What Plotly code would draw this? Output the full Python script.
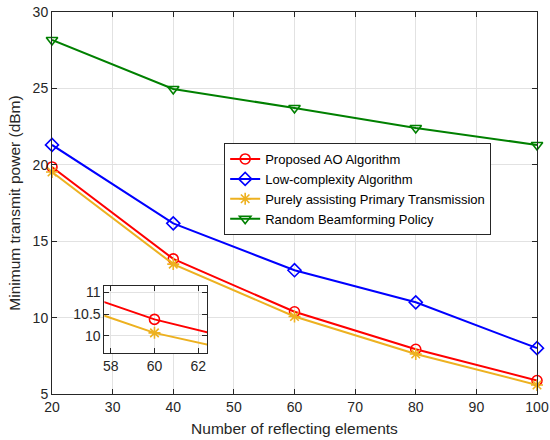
import plotly.graph_objects as go

# ---- data ----
elements = [20, 40, 60, 80, 100]
proposed_ao = [19.86, 13.84, 10.38, 7.93, 5.88]
low_complexity = [21.3, 16.17, 13.1, 11.0, 8.0]
purely_primary = [19.53, 13.5, 10.07, 7.62, 5.59]
random_bf = [28.17, 24.96, 23.72, 22.41, 21.3]

names = ["Proposed AO Algorithm", "Low-complexity Algorithm",
         "Purely assisting Primary Transmission", "Random Beamforming Policy"]

x_ticks = [20, 30, 40, 50, 60, 70, 80, 90, 100]
y_ticks = [5, 10, 15, 20, 25, 30]
inset_x_ticks = [58, 60, 62]
inset_y_ticks = [10, 10.5, 11]
inset_y_ticklabels = ["10", "10.5", "11"]

RED = "#FF0000"
BLUE = "#0000FF"
YEL = "#EDB120"
GRN = "#008000"
AX = "#262626"
GRID = "#e2e2e2"
FONT = "Liberation Sans"

fig = go.Figure()

series = [
    (proposed_ao, RED, "circle-open"),
    (low_complexity, BLUE, "diamond-open"),
    (purely_primary, YEL, "asterisk-open"),
    (random_bf, GRN, "triangle-down-open"),
]
for (vals, col, sym), nm in zip(series, names):
    fig.add_trace(go.Scatter(
        x=elements, y=vals, name=nm, mode="lines+markers",
        line=dict(color=col, width=2),
        marker=dict(symbol=sym, size=10, color=col, line=dict(color=col, width=1.6)),
        cliponaxis=False,
    ))

# inset traces
for (vals, col, sym) in [series[0], series[2]]:
    fig.add_trace(go.Scatter(
        x=elements, y=vals, mode="lines+markers", showlegend=False,
        line=dict(color=col, width=2),
        marker=dict(symbol=sym, size=10, color=col, line=dict(color=col, width=1.6)),
        xaxis="x2", yaxis="y2",
    ))

axis_common = dict(
    showline=True, linecolor=AX, linewidth=1, mirror="allticks",
    ticks="inside", ticklen=5, tickcolor=AX, showgrid=True, gridcolor=GRID,
    gridwidth=1, zeroline=False, automargin=False,
    tickfont=dict(family=FONT, size=14, color=AX),
)

fig.update_layout(
    width=550, height=440,
    margin=dict(l=52, r=13, t=12, b=46),
    paper_bgcolor="white", plot_bgcolor="white",
    font=dict(family=FONT, color=AX),
    xaxis=dict(range=[20, 100], tickvals=x_ticks, domain=[0, 1],
               title=dict(text="Number of reflecting elements",
                          font=dict(family=FONT, size=15.5, color=AX), standoff=9),
               **axis_common),
    yaxis=dict(range=[5, 30], tickvals=y_ticks, domain=[0, 1],
               title=dict(text="Minimum transmit power (dBm)",
                          font=dict(family=FONT, size=15.5, color=AX), standoff=8),
               **axis_common),
    xaxis2=dict(range=[57.71, 62.41], tickvals=inset_x_ticks, domain=[0.108, 0.320],
                anchor="y2", **axis_common),
    yaxis2=dict(range=[9.6, 11.15], tickvals=inset_y_ticks, ticktext=inset_y_ticklabels,
                domain=[0.1065, 0.283], anchor="x2", **axis_common),
    legend=dict(x=0.355, y=0.657, xanchor="left", yanchor="top",
                bgcolor="white", bordercolor=AX, borderwidth=1,
                font=dict(family=FONT, size=13, color="black"),
                tracegroupgap=0, itemwidth=30),
    showlegend=True,
)

fig.write_html("out.html", config={"displayModeBar": False},
               post_script="document.body.style.margin='0px';")
